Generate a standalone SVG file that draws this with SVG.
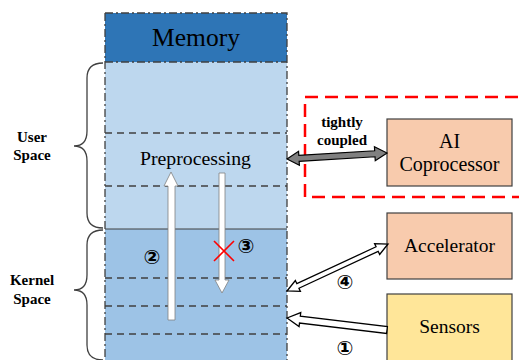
<svg xmlns="http://www.w3.org/2000/svg" width="519" height="360" viewBox="0 0 519 360">
<style>
.dash{stroke:#404040;stroke-width:1.3;stroke-dasharray:7 5;fill:none}
.brace{fill:none;stroke:#404040;stroke-width:1.3}
.box{stroke:#404040;stroke-width:1.2}
</style>
<rect width="519" height="360" fill="#fff"/>
<g id="memory">
<rect x="105" y="62" width="182" height="167" fill="#BDD7EE"/>
<rect x="105" y="229" width="182" height="140" fill="#9DC3E6"/>
<rect x="105" y="13" width="182" height="49" fill="#2E75B6"/>
<line x1="105" y1="229" x2="287" y2="229" stroke="#404040" stroke-width="1"/>
<path d="M105,13 H287 V369 M105,13 V369 M105,62 H287" fill="none" stroke="#404040" stroke-width="1.3" stroke-dasharray="8 3 2 3"/>
<line class="dash" x1="105" y1="133" x2="287" y2="133"/>
<line class="dash" x1="105" y1="186" x2="287" y2="186"/>
<line class="dash" x1="105" y1="278" x2="287" y2="278"/>
<line class="dash" x1="105" y1="306" x2="287" y2="306"/>
<line class="dash" x1="105" y1="334" x2="287" y2="334"/>
<text font-family="Liberation Serif, Times New Roman, serif" x="196" y="46" font-size="25.5" text-anchor="middle">Memory</text>
<text font-family="Liberation Serif, Times New Roman, serif" x="195.5" y="165" font-size="19.8" text-anchor="middle">Preprocessing</text>
</g>
<g id="user-space" font-family="Liberation Serif, Times New Roman, serif" font-weight="bold" font-size="15">
<path class="brace" d="M103,63 Q87,63 87,78 L87,131 Q87,146 74,146 Q87,146 87,161 L87,213 Q87,228 103,228"/>
<text x="32" y="142" text-anchor="middle">User</text>
<text x="32" y="160" text-anchor="middle">Space</text>
</g>
<g id="kernel-space" font-family="Liberation Serif, Times New Roman, serif" font-weight="bold" font-size="15">
<path class="brace" d="M103,230 Q87,230 87,245 L87,275 Q87,290 74,290 Q87,290 87,305 L87,345 Q87,360 103,360"/>
<text x="32" y="285" text-anchor="middle">Kernel</text>
<text x="32" y="304" text-anchor="middle">Space</text>
</g>
<g id="coupled-region" font-family="Liberation Serif, Times New Roman, serif" font-weight="bold" font-size="15">
<rect x="305" y="97" width="230" height="100" fill="none" stroke="#FF0000" stroke-width="2.5" stroke-dasharray="13 7"/>
<text x="342" y="127" text-anchor="middle">tightly</text>
<text x="342" y="145" text-anchor="middle">coupled</text>
</g>
<g id="ai-coprocessor" font-family="Liberation Serif, Times New Roman, serif" font-size="20">
<rect class="box" x="387" y="119" width="125" height="67" fill="#F8CBAD"/>
<text x="449.5" y="148" text-anchor="middle">AI</text>
<text x="449.5" y="171" text-anchor="middle">Coprocessor</text>
</g>
<g id="accelerator" font-family="Liberation Serif, Times New Roman, serif" font-size="19.5">
<rect class="box" x="387" y="213" width="125" height="66" fill="#F8CBAD"/>
<text x="449.5" y="252" text-anchor="middle">Accelerator</text>
</g>
<g id="sensors" font-family="Liberation Serif, Times New Roman, serif" font-size="19.5">
<rect class="box" x="387" y="294" width="125" height="75" fill="#FFE699"/>
<text x="449.5" y="333" text-anchor="middle">Sensors</text>
</g>
<g id="connectors">
<polygon points="168,320 168,186 164,186 171,172 178,186 175,186 175,320" fill="#fff" stroke="#808080" stroke-width="0.8"/>
<polygon points="219,173 225,173 225,280 229,280 222,293 215,280 219,280" fill="#fff" stroke="#808080" stroke-width="0.8"/>
<path d="M214,241 L234,261 M234,241 L214,261" stroke="#FF0000" stroke-width="1.6"/>
<polygon transform="translate(287,159) rotate(-3.4)" points="0,0 12,-7 12,-3 88,-3 88,-7 100.2,0 88,7 88,3 12,3 12,7" fill="#808080" stroke="#000" stroke-width="1.2"/>
<polygon transform="translate(287,291) rotate(-24.95)" points="0,0 12,-6 12,-2.5 99.4,-2.5 99.4,-6 111.4,0 99.4,6 99.4,2.5 12,2.5 12,6" fill="#fff" stroke="#000" stroke-width="1.3"/>
<polygon transform="translate(287,318) rotate(6.84)" points="0,0 13,-7 13,-3.5 100.7,-3.5 100.7,3.5 13,3.5 13,7" fill="#fff" stroke="#000" stroke-width="1.3"/>
<g font-family="DejaVu Sans, sans-serif" font-size="20" font-weight="bold" text-anchor="middle">
<text x="152" y="264">②</text>
<text x="246" y="253">③</text>
<text x="345" y="289">④</text>
<text x="345" y="355">①</text>
</g>
</g>
</svg>
